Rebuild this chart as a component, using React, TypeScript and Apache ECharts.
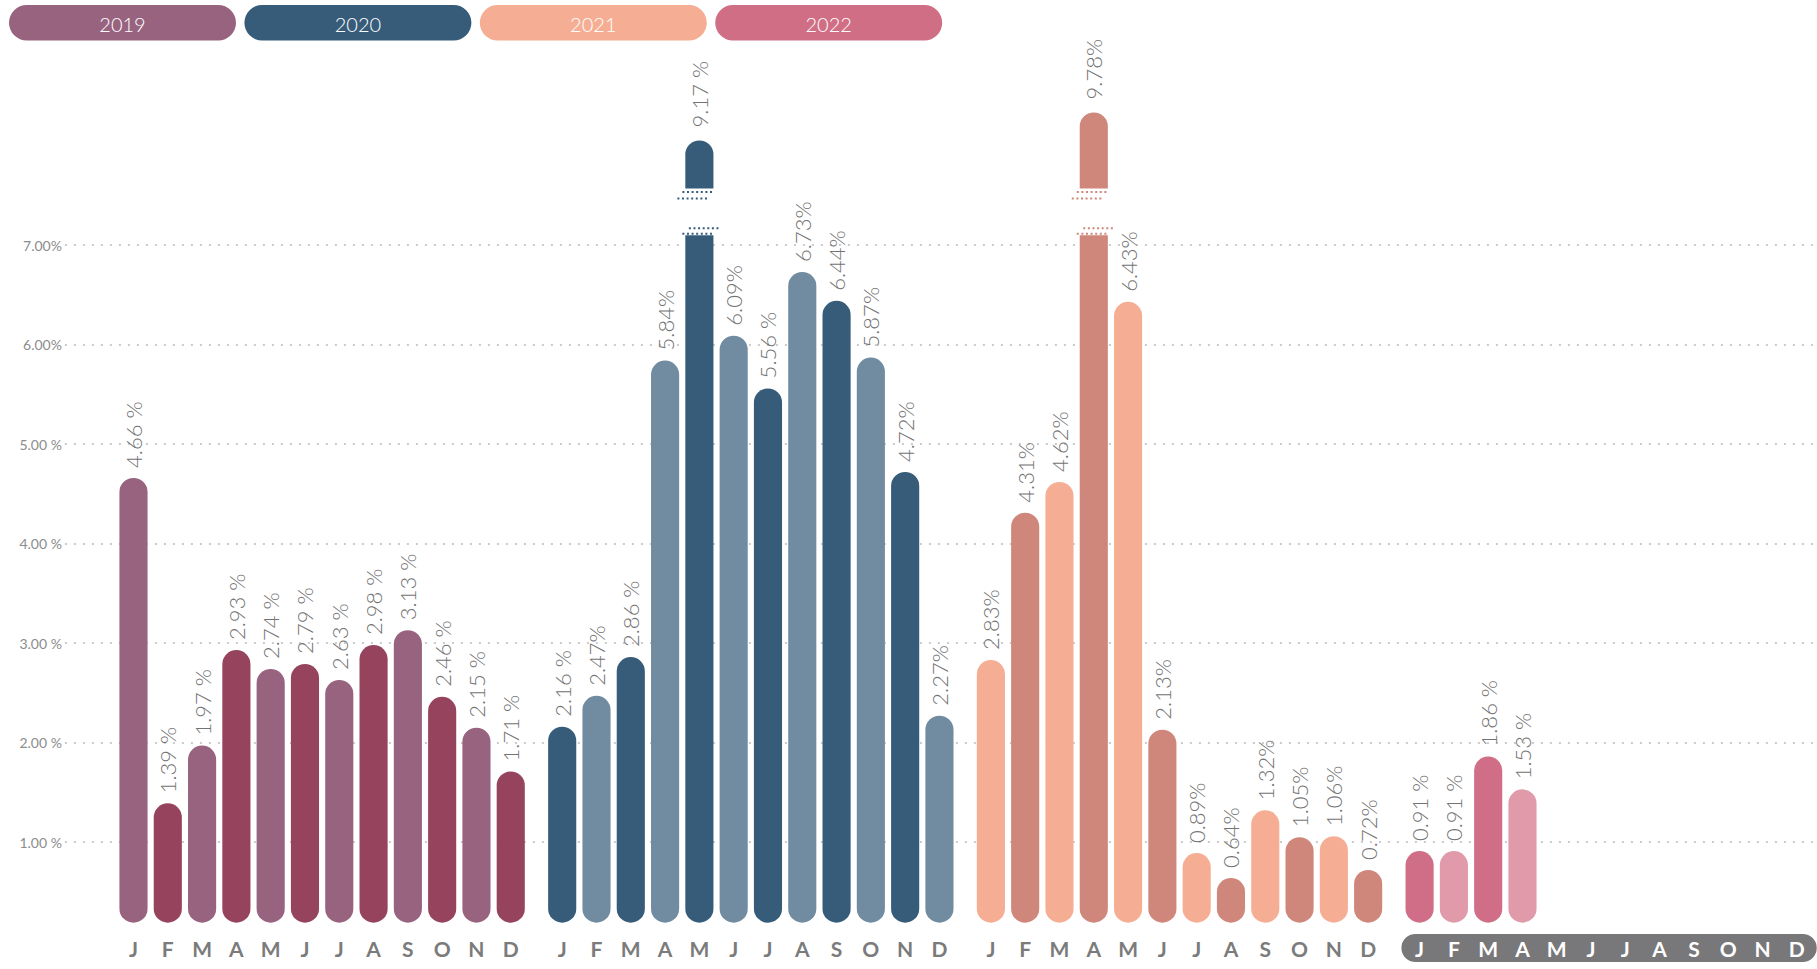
import React, { useEffect, useRef } from 'react';
import * as echarts from 'echarts';

// ---------- data ----------
const YEARS = ['2019', '2020', '2021', '2022'];
const MONTHS = ['J', 'F', 'M', 'A', 'M', 'J', 'J', 'A', 'S', 'O', 'N', 'D'];

const VALUES_2019 = [4.66, 1.39, 1.97, 2.93, 2.74, 2.79, 2.63, 2.98, 3.13, 2.46, 2.15, 1.71];
const LABELS_2019 = ['4.66 %', '1.39 %', '1.97 %', '2.93 %', '2.74 %', '2.79 %', '2.63 %', '2.98 %', '3.13 %', '2.46 %', '2.15 %', '1.71 %'];

const VALUES_2020 = [2.16, 2.47, 2.86, 5.84, 9.17, 6.09, 5.56, 6.73, 6.44, 5.87, 4.72, 2.27];
const LABELS_2020 = ['2.16 %', '2.47%', '2.86 %', '5.84%', '9.17 %', '6.09%', '5.56 %', '6.73%', '6.44%', '5.87%', '4.72%', '2.27%'];

const VALUES_2021 = [2.83, 4.31, 4.62, 9.78, 6.43, 2.13, 0.89, 0.64, 1.32, 1.05, 1.06, 0.72];
const LABELS_2021 = ['2.83%', '4.31%', '4.62%', '9.78%', '6.43%', '2.13%', '0.89%', '0.64%', '1.32%', '1.05%', '1.06%', '0.72%'];

const VALUES_2022 = [0.91, 0.91, 1.86, 1.53];
const LABELS_2022 = ['0.91 %', '0.91 %', '1.86 %', '1.53 %'];

const Y_TICKS = [1, 2, 3, 4, 5, 6, 7];
const Y_TICK_LABELS = ['1.00 %', '2.00 %', '3.00 %', '4.00 %', '5.00 %', '6.00%', '7.00%'];

const HIGHLIGHT_YEAR = 3; // 2022 axis pill

// ---------- style / layout constants ----------
const FONT = 'Lato, "Noto Sans", "DejaVu Sans", sans-serif';
const PILL_COLORS = ['#98637f', '#365c7a', '#f5ae94', '#d06e85'];
const BAR_COLORS = [
  ['#97637f', '#96435e'],
  ['#365c7a', '#718ca1'],
  ['#f5ae94', '#cf877b'],
  ['#cf6e86', '#e09aaa'],
];
const GROUP_STRIDE = 12.5;
const BAR_W_UNITS = 0.82;
const BASE = 0.19;
const BREAK_AT = 7.5;
const LOW_TOP = 7.1;
const UP_BOT = 7.57;
const COMPRESS_FROM = 7.1;
const COMPRESS = 0.46;
const LABEL_GAP = 10;

const ALL_VALUES = [VALUES_2019, VALUES_2020, VALUES_2021, VALUES_2022];
const ALL_LABELS = [LABELS_2019, LABELS_2020, LABELS_2021, LABELS_2022];

const barData: number[][] = [];
ALL_VALUES.forEach((vals, g) => {
  vals.forEach((v, m) => {
    barData.push([g * GROUP_STRIDE + m, v, g, m]);
  });
});

function monthAt(value: number): { g: number; m: number } | null {
  const v = Math.round(value * 2) / 2;
  const g = Math.floor((v + 0.25) / GROUP_STRIDE);
  const m = v - g * GROUP_STRIDE;
  if (g < 0 || g > 3) return null;
  if (Math.abs(m - Math.round(m)) > 1e-6) return null;
  const mi = Math.round(m);
  if (mi < 0 || mi > 11) return null;
  return { g, m: mi };
}

function buildOption(): any {
  return {
    animation: false,
    grid: { left: 64.9, right: 2.8, top: 145.6, bottom: 27.4 },
    xAxis: {
      type: 'value',
      min: -2,
      max: 49,
      interval: 0.5,
      z: 10,
      axisLine: { show: false },
      axisTick: { show: false },
      splitLine: { show: false },
      axisLabel: {
        margin: 7,
        verticalAlign: 'middle',
        formatter: (val: number) => {
          const r = monthAt(val);
          if (!r) return '';
          const key = r.g === HIGHLIGHT_YEAR ? 'w' : 'g';
          return '{' + key + '|' + MONTHS[r.m] + '}';
        },
        rich: {
          g: { color: '#7b7b7b', fontSize: 21, fontWeight: 'bold', fontFamily: FONT, lineHeight: 21 },
          w: { color: '#ffffff', fontSize: 21, fontWeight: 'bold', fontFamily: FONT, lineHeight: 21 },
        },
      },
    },
    yAxis: {
      type: 'value',
      min: 0,
      max: 8,
      interval: 1,
      axisLine: { show: false },
      axisTick: { show: false },
      axisLabel: {
        margin: 3,
        color: '#8c8c8c',
        fontSize: 14,
        fontFamily: FONT,
        formatter: (v: number) => {
          const i = Y_TICKS.indexOf(Math.round(v));
          return i >= 0 ? Y_TICK_LABELS[i] : '';
        },
      },
      splitLine: {
        show: true,
        showMinLine: false,
        showMaxLine: false,
        lineStyle: { color: '#cbcbcb', width: 2, type: [2, 7] },
      },
    },
    graphic: YEARS.map((y, i) => ({
      type: 'group',
      left: 9 + i * 235.4,
      top: 5,
      children: [
        { type: 'rect', shape: { x: 0, y: 0, width: 227, height: 35.5, r: 17.75 }, style: { fill: PILL_COLORS[i] } },
        {
          type: 'text',
          x: 113.5,
          y: 18.5,
          style: { text: y, fill: '#ffffff', fontSize: 20, fontWeight: 300, fontFamily: FONT, align: 'center', verticalAlign: 'middle' },
        },
      ],
    })),
    series: [
      {
        type: 'custom',
        name: 'axisPill',
        z: 1,
        silent: true,
        clip: false,
        data: [[HIGHLIGHT_YEAR * GROUP_STRIDE, HIGHLIGHT_YEAR * GROUP_STRIDE + 11]],
        encode: { x: [0, 1] },
        renderItem: (params: any, api: any) => {
          const x0 = api.coord([api.value(0) - 0.53, 0])[0];
          const x1 = api.coord([api.value(1) + 0.58, 0])[0];
          const y0 = api.coord([api.value(0), 0])[1] - 7.6;
          return {
            type: 'rect',
            shape: { x: x0, y: y0, width: x1 - x0, height: 28, r: 14 },
            style: { fill: '#78787a' },
          };
        },
      },
      {
        type: 'custom',
        name: 'rates',
        z: 3,
        clip: false,
        data: barData,
        encode: { x: 0, y: 1 },
        renderItem: (params: any, api: any) => {
          const p = api.value(0);
          const v = api.value(1);
          const g = api.value(2);
          const m = api.value(3);
          const w = api.size([BAR_W_UNITS, 0])[0];
          const cx = api.coord([p, 0])[0];
          const yBase = api.coord([p, BASE])[1];
          const color = BAR_COLORS[g][m % 2];
          const r = w / 2;
          const children: any[] = [];
          let topY: number;
          let gap = LABEL_GAP;
          if (v > BREAK_AT) {
            const yLowTop = api.coord([p, LOW_TOP])[1];
            const yUpBot = api.coord([p, UP_BOT])[1];
            const disp = COMPRESS_FROM + (v - COMPRESS_FROM) * COMPRESS;
            topY = api.coord([p, disp])[1];
            gap = LABEL_GAP + 3;
            children.push({
              type: 'rect',
              shape: { x: cx - r, y: yLowTop, width: w, height: yBase - yLowTop, r: [0, 0, r, r] },
              style: { fill: color },
            });
            children.push({
              type: 'rect',
              shape: { x: cx - r, y: topY, width: w, height: yUpBot - topY, r: [r, r, 0, 0] },
              style: { fill: color },
            });
            const dl = (c: number, y: number) => ({
              type: 'line',
              shape: { x1: c - 16, y1: y, x2: c + 16, y2: y },
              style: { stroke: color, lineWidth: 2, lineDash: [2, 2.6] },
            });
            children.push(dl(cx - 1, yUpBot + 3.5));
            children.push(dl(cx - 6, yUpBot + 10));
            children.push(dl(cx + 5.5, yLowTop - 7));
            children.push(dl(cx - 1, yLowTop - 1.5));
          } else {
            topY = api.coord([p, v])[1];
            children.push({
              type: 'rect',
              shape: { x: cx - r, y: topY, width: w, height: yBase - topY, r: r },
              style: { fill: color },
            });
          }
          children.push({
            type: 'text',
            x: cx,
            y: topY - gap,
            rotation: Math.PI / 2,
            style: {
              text: ALL_LABELS[g][m],
              fill: '#737373',
              fontSize: 22,
              fontWeight: 300,
              fontFamily: FONT,
              align: 'left',
              verticalAlign: 'middle',
            },
          });
          return { type: 'group', children };
        },
      },
    ],
  };
}

export default function App() {
  const ref = useRef<HTMLDivElement>(null);
  useEffect(() => {
    document.body.style.margin = '0';
    const chart = echarts.init(ref.current as HTMLDivElement, null, { renderer: 'svg' });
    chart.setOption(buildOption());
    return () => chart.dispose();
  }, []);
  return <div ref={ref} style={{ width: 1817, height: 969 }} />;
}
